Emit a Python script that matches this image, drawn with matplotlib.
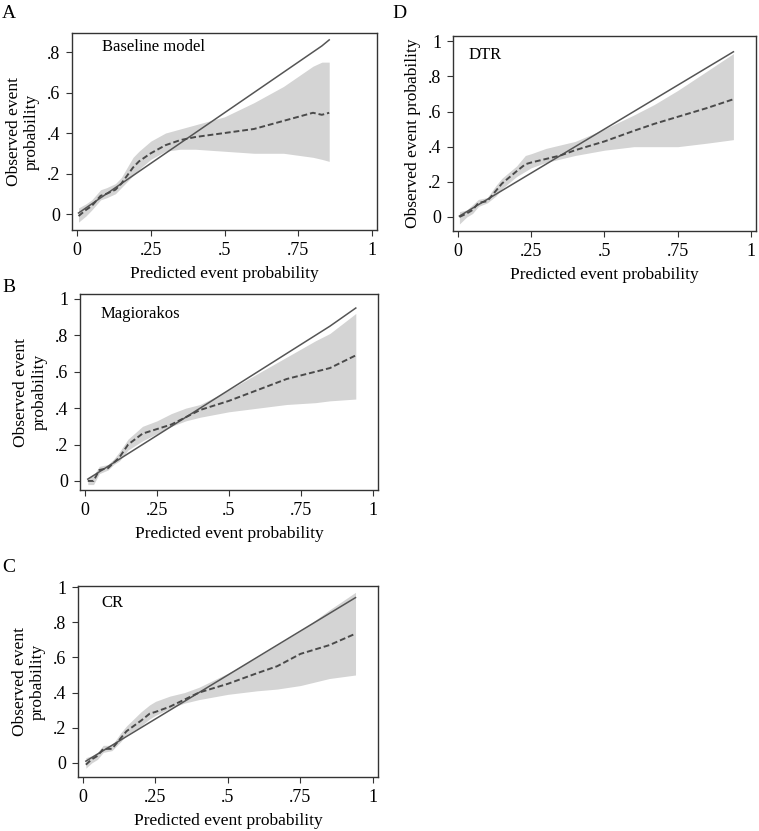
import numpy as np
import matplotlib
matplotlib.use('Agg')
import matplotlib.pyplot as plt

plt.rcParams['font.family'] = ['Liberation Serif', 'DejaVu Serif']

# ---- data ----
# A: Baseline model
a_x = [0.005, 0.03, 0.05, 0.08, 0.1, 0.13, 0.15, 0.17, 0.19, 0.21, 0.25, 0.3, 0.35, 0.4, 0.5, 0.6, 0.7, 0.8, 0.83, 0.855]
a_obs = [-0.01, 0.02, 0.04, 0.09, 0.10, 0.12, 0.15, 0.19, 0.23, 0.26, 0.30, 0.34, 0.365, 0.38, 0.40, 0.42, 0.46, 0.50, 0.49, 0.50]
a_hi = [0.03, 0.05, 0.07, 0.12, 0.13, 0.15, 0.18, 0.23, 0.28, 0.31, 0.36, 0.40, 0.42, 0.44, 0.48, 0.55, 0.63, 0.73, 0.75, 0.75]
a_lo = [-0.04, -0.01, 0.02, 0.07, 0.08, 0.10, 0.13, 0.16, 0.19, 0.22, 0.27, 0.31, 0.32, 0.32, 0.31, 0.30, 0.30, 0.28, 0.27, 0.26]
a_ref = [0.005, 0.03, 0.05, 0.08, 0.10, 0.13, 0.15, 0.17, 0.19, 0.21, 0.25, 0.30, 0.35, 0.40, 0.50, 0.60, 0.70, 0.80, 0.83, 0.86]

# D: DTR
d_x = [0.005, 0.03, 0.05, 0.07, 0.1, 0.13, 0.15, 0.2, 0.23, 0.25, 0.3, 0.35, 0.4, 0.5, 0.6, 0.67, 0.75, 0.85, 0.94]
d_obs = [0.0, 0.02, 0.04, 0.08, 0.09, 0.15, 0.19, 0.26, 0.30, 0.31, 0.33, 0.35, 0.38, 0.43, 0.49, 0.53, 0.57, 0.62, 0.67]
d_hi = [0.03, 0.04, 0.07, 0.10, 0.11, 0.18, 0.22, 0.29, 0.35, 0.36, 0.39, 0.41, 0.43, 0.50, 0.58, 0.64, 0.72, 0.83, 0.93]
d_lo = [-0.04, 0.0, 0.02, 0.06, 0.08, 0.12, 0.16, 0.23, 0.26, 0.28, 0.31, 0.33, 0.35, 0.38, 0.40, 0.40, 0.40, 0.42, 0.44]
d_ref = [0.005, 0.03, 0.05, 0.07, 0.10, 0.13, 0.15, 0.20, 0.23, 0.25, 0.30, 0.35, 0.40, 0.50, 0.60, 0.67, 0.75, 0.85, 0.94]

# B: Magiorakos
b_x = [0.01, 0.03, 0.05, 0.08, 0.1, 0.12, 0.15, 0.2, 0.25, 0.3, 0.35, 0.4, 0.5, 0.6, 0.7, 0.8, 0.85, 0.94]
b_obs = [0.0, 0.0, 0.06, 0.07, 0.10, 0.13, 0.20, 0.26, 0.285, 0.31, 0.35, 0.39, 0.44, 0.50, 0.56, 0.60, 0.62, 0.69]
b_hi = [0.02, 0.03, 0.08, 0.09, 0.12, 0.16, 0.23, 0.30, 0.33, 0.37, 0.40, 0.42, 0.50, 0.59, 0.68, 0.77, 0.81, 0.92]
b_lo = [-0.02, -0.02, 0.04, 0.06, 0.09, 0.11, 0.17, 0.22, 0.26, 0.30, 0.33, 0.35, 0.38, 0.40, 0.42, 0.43, 0.44, 0.45]
b_ref = [0.01, 0.03, 0.05, 0.08, 0.10, 0.12, 0.15, 0.20, 0.25, 0.30, 0.35, 0.40, 0.50, 0.60, 0.70, 0.80, 0.85, 0.95]

# C: CR
c_x = [0.01, 0.03, 0.05, 0.07, 0.1, 0.13, 0.15, 0.2, 0.23, 0.25, 0.3, 0.35, 0.4, 0.5, 0.6, 0.67, 0.75, 0.85, 0.94]
c_obs = [-0.01, 0.02, 0.04, 0.08, 0.08, 0.14, 0.18, 0.24, 0.28, 0.29, 0.32, 0.36, 0.40, 0.45, 0.51, 0.55, 0.62, 0.67, 0.735]
c_hi = [0.03, 0.04, 0.06, 0.10, 0.10, 0.17, 0.21, 0.29, 0.33, 0.35, 0.38, 0.40, 0.43, 0.51, 0.60, 0.67, 0.75, 0.87, 0.97]
c_lo = [-0.03, 0.0, 0.02, 0.06, 0.07, 0.12, 0.16, 0.21, 0.25, 0.27, 0.31, 0.34, 0.36, 0.39, 0.41, 0.42, 0.44, 0.48, 0.50]
c_ref = [0.01, 0.03, 0.05, 0.07, 0.10, 0.13, 0.15, 0.20, 0.23, 0.25, 0.30, 0.35, 0.40, 0.50, 0.60, 0.67, 0.75, 0.85, 0.94]

x_ticks = [0, 0.25, 0.5, 0.75, 1]
x_labels = ['0', '.25', '.5', '.75', '1']

fig = plt.figure(figsize=(7.59, 8.31), dpi=100)

def panel(rect, letter, letter_pos, name, name_pos, x, obs, hi, lo, ref, ylim, yticks, ylabels, ylabel):
    ax = fig.add_axes(rect)
    ax.fill_between(x, lo, hi, color='#d4d4d4', lw=0)
    ax.plot(x, ref, color='#555555', lw=1.1)
    ax.plot(x, obs, color='#4a4a4a', lw=1.4, ls=(0, (3, 1.5)))
    ax.set_xlim(-0.017, 1.017)
    ax.set_ylim(*ylim)
    ax.set_xticks(x_ticks)
    ax.set_xticklabels(x_labels)
    ax.set_yticks(yticks)
    ax.set_yticklabels(ylabels)
    ax.tick_params(labelsize=13, length=4.5, color='#333333', width=0.8, pad=4)
    for s in ax.spines.values():
        s.set_color('#333333')
        s.set_linewidth(1.0)
    ax.set_xlabel('Predicted event probability', fontsize=12.5, labelpad=5)
    ax.set_ylabel(ylabel, fontsize=12.5, labelpad=5)
    ax.text(name_pos[0], name_pos[1], name, transform=ax.transAxes, fontsize=12, va='center')
    fig.text(letter_pos[0], letter_pos[1], letter, fontsize=14, va='center')
    return ax

y08 = [0, 0.2, 0.4, 0.6, 0.8]
y08l = ['0', '.2', '.4', '.6', '.8']
y1 = [0, 0.2, 0.4, 0.6, 0.8, 1]
y1l = ['0', '.2', '.4', '.6', '.8', '1']

panel([0.0949, 0.7232, 0.4018, 0.2371], 'A', (0.003, 0.984), 'Baseline model', (0.098, 0.93),
      a_x, a_obs, a_hi, a_lo, a_ref, (-0.079, 0.894), y08, y08l, 'Observed event\nprobability')
panel([0.5968, 0.7220, 0.3992, 0.2347], 'D', (0.517, 0.984), 'DTR', (0.05, 0.90),
      d_x, d_obs, d_hi, d_lo, d_ref, (-0.08, 1.03), y1, y1l, 'Observed event probability')
panel([0.1054, 0.4103, 0.3926, 0.2359], 'B', (0.003, 0.654), 'Magiorakos', (0.07, 0.90),
      b_x, b_obs, b_hi, b_lo, b_ref, (-0.05, 1.027), y1, y1l, 'Observed event\nprobability')
panel([0.1028, 0.0650, 0.3950, 0.2298], 'C', (0.003, 0.317), 'CR', (0.077, 0.91),
      c_x, c_obs, c_hi, c_lo, c_ref, (-0.08, 1.006), y1, y1l, 'Observed event\nprobability')

fig.savefig('out.png', dpi=100)
